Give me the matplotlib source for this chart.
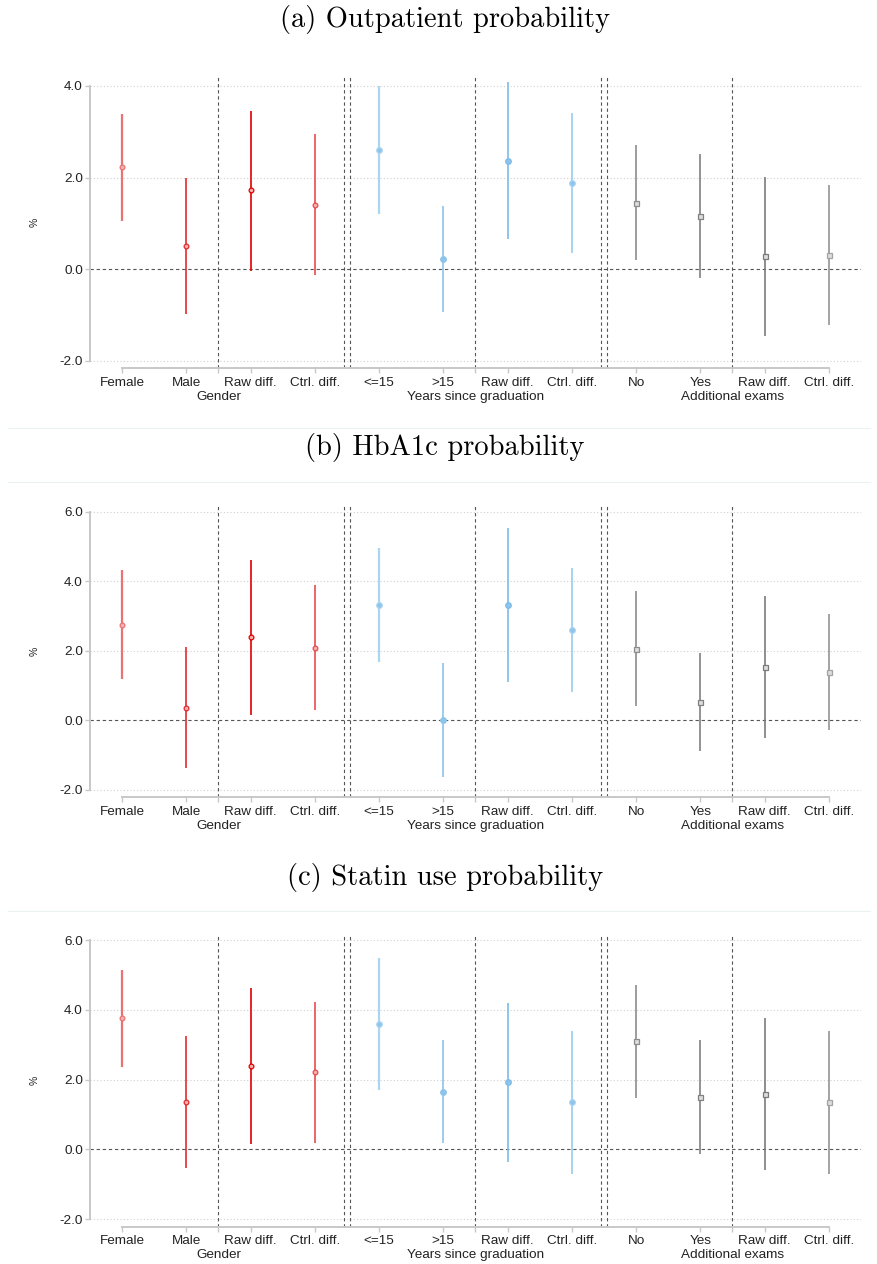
import matplotlib
matplotlib.use("Agg")
import matplotlib.pyplot as plt
from matplotlib.lines import Line2D

plt.rcParams["font.family"] = ["Liberation Sans", "DejaVu Sans"]

# categories, three groups of four
tick_labels = ["Female", "Male", "Raw diff.", "Ctrl. diff.",
               "<=15", ">15", "Raw diff.", "Ctrl. diff.",
               "No", "Yes", "Raw diff.", "Ctrl. diff."]
group_labels = ["Gender", "Years since graduation", "Additional exams"]
panel_titles = ["(a) Outpatient probability", "(b) HbA1c probability",
                "(c) Statin use probability"]

# point estimates and 95% CI bounds (percentage points)
outpatient_est = [2.22, 0.50, 1.72, 1.41, 2.59, 0.22, 2.37, 1.88, 1.45, 1.16, 0.28, 0.31]
outpatient_lo = [1.06, -0.98, -0.03, -0.12, 1.20, -0.93, 0.66, 0.36, 0.20, -0.20, -1.46, -1.22]
outpatient_hi = [3.38, 1.98, 3.46, 2.95, 3.99, 1.37, 4.09, 3.41, 2.70, 2.51, 2.02, 1.83]

hba1c_est = [2.74, 0.36, 2.38, 2.09, 3.30, -0.01, 3.31, 2.59, 2.06, 0.53, 1.53, 1.38]
hba1c_lo = [1.18, -1.37, 0.14, 0.29, 1.66, -1.65, 1.09, 0.82, 0.41, -0.88, -0.51, -0.28]
hba1c_hi = [4.32, 2.10, 4.60, 3.88, 4.95, 1.63, 5.53, 4.37, 3.71, 1.93, 3.58, 3.04]

statin_est = [3.76, 1.36, 2.38, 2.21, 3.61, 1.66, 1.92, 1.35, 3.10, 1.50, 1.59, 1.35]
statin_lo = [2.36, -0.54, 0.15, 0.19, 1.71, 0.19, -0.35, -0.72, 1.47, -0.12, -0.58, -0.70]
statin_hi = [5.16, 3.26, 4.62, 4.22, 5.49, 3.15, 4.20, 3.41, 4.73, 3.14, 3.77, 3.41]

y_ticks = [[-2, 0, 2, 4], [-2, 0, 2, 4, 6], [-2, 0, 2, 4, 6]]
y_limits = [(-2.16, 4.22), (-2.22, 6.19), (-2.22, 6.18)]

# styling per coefficient
line_colors = ["#e87373", "#e42a2e", "#e00000", "#e84a4e",
               "#acd5f2", "#8ec4ea", "#7dbbe8", "#a8d2f0",
               "#8c8c8c", "#808080", "#7a7a7a", "#a3a3a3"]
line_widths = [1.6, 1.2, 1.2, 1.2, 1.6, 1.2, 1.2, 1.4, 1.2, 1.2, 1.2, 1.4]
markers = ["o"] * 4 + ["o"] * 4 + ["s"] * 4
marker_faces = ["#f4b0b0"] * 4 + ["#8ec4ea"] * 4 + ["#dddddd"] * 4
marker_sizes = [3.4] * 4 + [4.0] * 4 + [3.6] * 4

W, H = 878, 1264
fig = plt.figure(figsize=(W / 100, H / 100), dpi=100)


def px_axes(left, right, top, bottom):
    return fig.add_axes([left / W, 1 - bottom / H, (right - left) / W, (bottom - top) / H])


panels = [
    (outpatient_est, outpatient_lo, outpatient_hi, 75.7, 368.3, 19),
    (hba1c_est, hba1c_lo, hba1c_hi, 505, 797.3, 448),
    (statin_est, statin_lo, statin_hi, 934, 1226.7, 877),
]

xs = list(range(1, 13))
grid_col = "#c8c8c8"
sep_col = "#555555"

for p, (est, lo, hi, top, bottom, title_y) in enumerate(panels):
    ax = px_axes(90, 861, top, bottom)
    ax.set_xlim(0.5, 12.5)
    ax.set_ylim(*y_limits[p])

    for yv in y_ticks[p]:
        if yv != 0:
            ax.axhline(yv, color="#d0d0d0", lw=0.8, ls=(0, (1, 2)), zorder=0)
    ax.axhline(0, color=sep_col, lw=0.8, ls=(0, (3, 2.5)), zorder=1)
    for xv in [2.5, 4.45, 4.55, 6.5, 8.45, 8.55, 10.5]:
        ax.axvline(xv, color=sep_col, lw=0.8, ls=(0, (3, 2.5)), zorder=1)

    for i, x in enumerate(xs):
        ax.vlines(x, lo[i], hi[i], color=line_colors[i], lw=line_widths[i], zorder=2)
        ax.plot(x, est[i], marker=markers[i], ms=marker_sizes[i], mfc=marker_faces[i],
                mec=line_colors[i], mew=0.9, zorder=3)

    for side in ["top", "right"]:
        ax.spines[side].set_visible(False)
    ax.spines["left"].set_bounds(-2, y_ticks[p][-1])
    ax.spines["bottom"].set_bounds(1, 12)
    for side in ["left", "bottom"]:
        ax.spines[side].set_color(grid_col)
        ax.spines[side].set_linewidth(1.4)

    ax.set_yticks(y_ticks[p])
    ax.set_yticklabels([f"{v:.1f}" for v in y_ticks[p]])
    ax.set_xticks(xs)
    ax.set_xticklabels(tick_labels)
    ax.set_xticks([2.5, 6.5, 10.5], minor=True)
    ax.set_xticklabels(group_labels, minor=True)
    ax.tick_params(axis="both", which="both", color=grid_col, width=1.0,
                   length=3.6, labelsize=9.7, labelcolor="#222222")
    ax.tick_params(axis="x", which="major", pad=2.5)
    ax.tick_params(axis="x", which="minor", pad=12.5)
    ax.tick_params(axis="y", pad=1.5)

    ax.set_ylabel("%", fontsize=7.5, color="#222222")
    ax.yaxis.set_label_coords(-0.065, 0.5)

    fig.text(445 / W, 1 - title_y / H, panel_titles[p], family="cmr10",
             fontsize=20.5, ha="center", va="center")

# faint frame lines between the panels
for yl in [428.3, 481.7, 910.7]:
    fig.add_artist(Line2D([8 / W, 870 / W], [1 - yl / H, 1 - yl / H],
                          color="#eaf1f1", lw=0.8))

fig.savefig("out.png", dpi=100)
